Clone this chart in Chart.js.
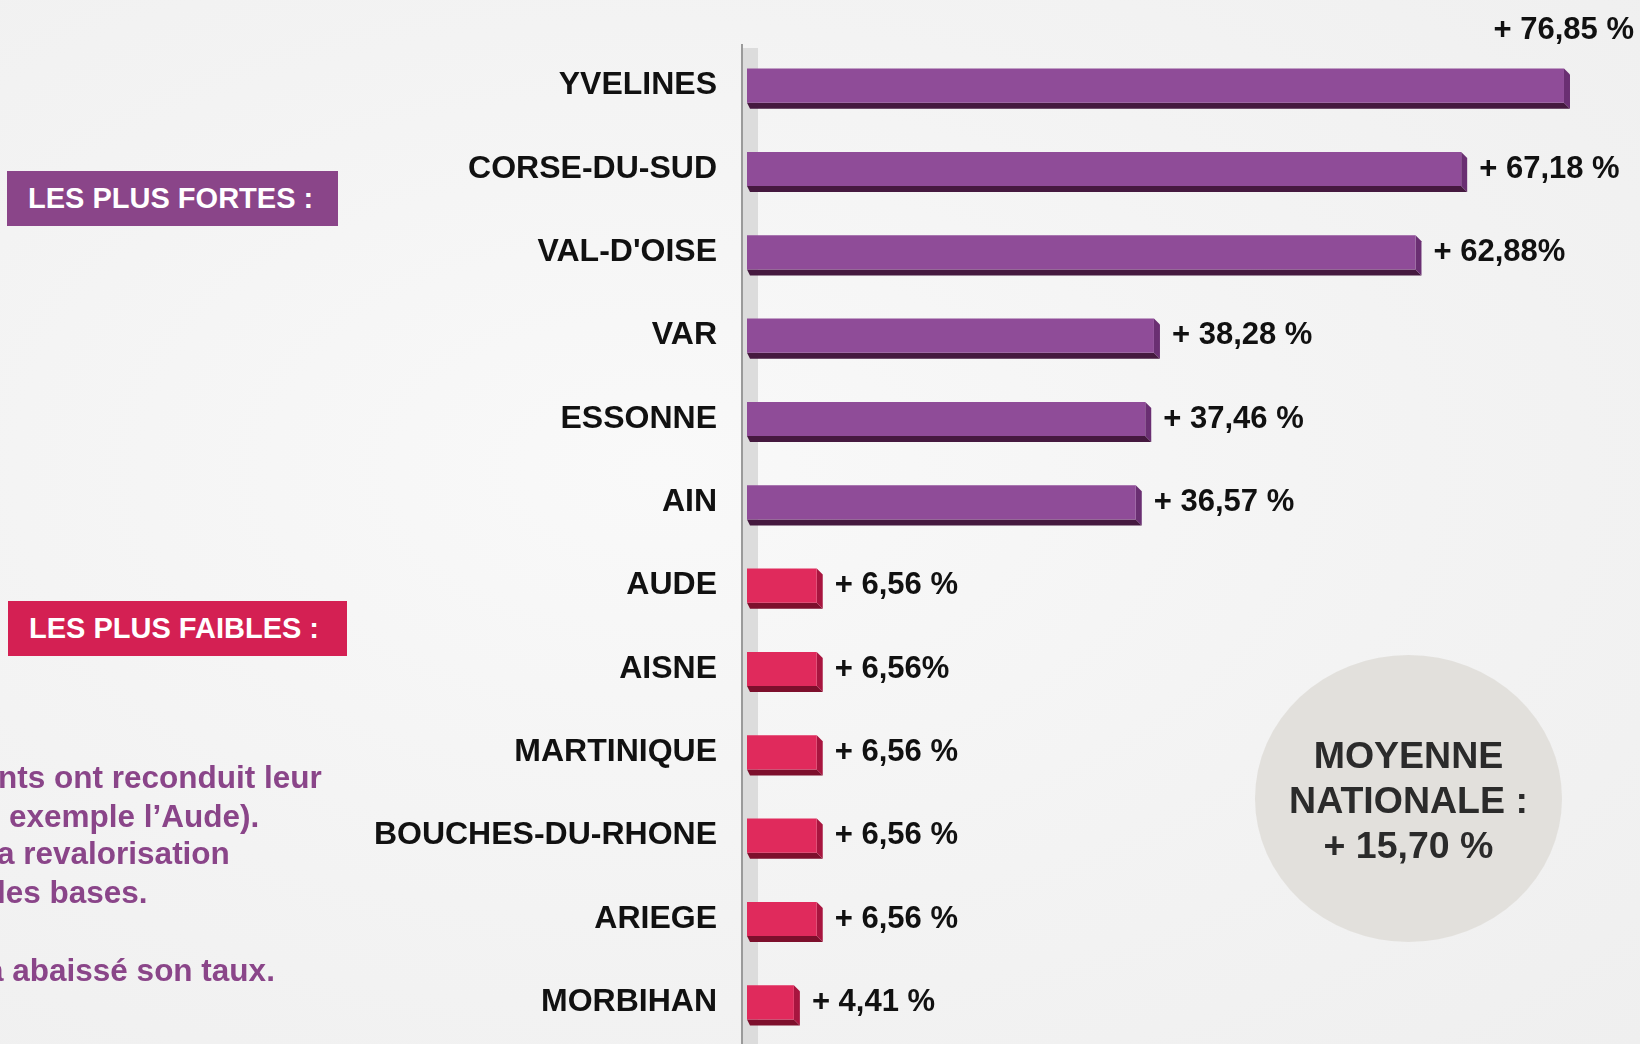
<!DOCTYPE html>
<html>
<head>
<meta charset="utf-8">
<script src="https://cdn.jsdelivr.net/npm/chart.js@4.4.0/dist/chart.umd.min.js"></script>
<style>
  html, body { margin: 0; padding: 0; }
  body {
    width: 1640px; height: 1044px; overflow: hidden; position: relative;
    background: radial-gradient(ellipse at 40% 45%, #f9f9f9 0%, #f3f3f3 55%, #efefef 100%);
    font-family: "Liberation Sans", Arial, sans-serif;
  }
  #wrap { position: absolute; left: 0; top: 0; width: 1640px; height: 1044px; }
  .box {
    position: absolute; color: #fff; font-weight: bold; font-size: 29px;
    line-height: 55px; padding-left: 21px; box-sizing: border-box;
  }
  #fortes { left: 7px; top: 171px; width: 331px; height: 55px; background: #8a4589; }
  #faibles { left: 8px; top: 601px; width: 339px; height: 55px; background: #d42053; }
  .note {
    position: absolute; color: #8a4589; font-weight: bold; font-size: 31.5px;
    white-space: nowrap; line-height: 36px;
  }
  #moyenne {
    position: absolute; left: 1255px; top: 655px; width: 307px; height: 287px;
    border-radius: 50%;
    background: radial-gradient(ellipse at center, #e2e0dc 0%, #e2e0dc 80%, #e6e4e1 100%);
    color: #2b2b2b; font-weight: bold; font-size: 37.5px; text-align: center;
  }
  #moyenne div { position: absolute; left: 0; width: 100%; line-height: 44px; }
</style>
</head>
<body>
<div id="wrap"><canvas id="chart" width="1640" height="1044"></canvas></div>

<div class="box" id="fortes">LES PLUS FORTES :</div>
<div class="box" id="faibles">LES PLUS FAIBLES :</div>

<div class="note" style="left:-2px; top:759px;">nts ont reconduit leur</div>
<div class="note" style="left:9px; top:798px;">exemple l’Aude).</div>
<div class="note" style="left:-3px; top:835px;">a revalorisation</div>
<div class="note" style="left:-3px; top:874px;">les bases.</div>
<div class="note" style="left:-14px; top:952px;">a abaissé son taux.</div>

<div id="moyenne">
  <div style="top:78px;">MOYENNE</div>
  <div style="top:123px;">NATIONALE :</div>
  <div style="top:168px;">+ 15,70 %</div>
</div>

<script>
var departements = ['YVELINES', 'CORSE-DU-SUD', "VAL-D'OISE", 'VAR', 'ESSONNE', 'AIN',
    'AUDE', 'AISNE', 'MARTINIQUE', 'BOUCHES-DU-RHONE', 'ARIEGE', 'MORBIHAN'];
var hausses = [76.85, 67.18, 62.88, 38.28, 37.46, 36.57, 6.56, 6.56, 6.56, 6.56, 6.56, 4.41];
var etiquettes = ['+ 76,85 %', '+ 67,18 %', '+ 62,88%', '+ 38,28 %', '+ 37,46 %', '+ 36,57 %',
    '+ 6,56 %', '+ 6,56%', '+ 6,56 %', '+ 6,56 %', '+ 6,56 %', '+ 4,41 %'];
var groupes = ['fortes', 'fortes', 'fortes', 'fortes', 'fortes', 'fortes',
    'faibles', 'faibles', 'faibles', 'faibles', 'faibles', 'faibles'];

var couleurs = {
    fortes: { face: '#8f4c98', cote: '#6a2f72', dessous: '#45193f' },
    faibles: { face: '#e02a5c', cote: '#a8153f', dessous: '#7d0f2c' }
};

var police = '"Liberation Sans", Arial, sans-serif';

// mur gris + axe, puis volume des barres (faces bas et droite)
var relief = {
    id: 'relief',
    beforeDatasetsDraw: function (chart) {
        var ctx = chart.ctx;
        var area = chart.chartArea;
        ctx.save();
        ctx.fillStyle = '#dcdcdc';
        ctx.fillRect(area.left - 4, area.top + 4, 15, area.bottom - area.top);
        ctx.strokeStyle = '#9a9a9a';
        ctx.lineWidth = 2;
        ctx.beginPath();
        ctx.moveTo(area.left - 5, area.top);
        ctx.lineTo(area.left - 5, area.bottom);
        ctx.stroke();

        var meta = chart.getDatasetMeta(0);
        var dx = 6, dy = 6;
        meta.data.forEach(function (bar, i) {
            var p = bar.getProps(['x', 'y', 'base', 'height'], true);
            var c = couleurs[groupes[i]];
            var top = p.y - p.height / 2, bot = p.y + p.height / 2;
            ctx.fillStyle = c.dessous;
            ctx.beginPath();
            ctx.moveTo(p.base, bot);
            ctx.lineTo(p.x, bot);
            ctx.lineTo(p.x + dx, bot + dy);
            ctx.lineTo(p.base + 3, bot + dy);
            ctx.closePath();
            ctx.fill();
            ctx.fillStyle = c.cote;
            ctx.beginPath();
            ctx.moveTo(p.x, top);
            ctx.lineTo(p.x + dx, top + dy);
            ctx.lineTo(p.x + dx, bot + dy);
            ctx.lineTo(p.x, bot);
            ctx.closePath();
            ctx.fill();
        });
        ctx.restore();
    },
    afterDatasetsDraw: function (chart) {
        var ctx = chart.ctx;
        var meta = chart.getDatasetMeta(0);
        ctx.save();
        ctx.font = 'bold 31px ' + police;
        ctx.fillStyle = '#111';
        ctx.textBaseline = 'middle';
        meta.data.forEach(function (bar, i) {
            var p = bar.getProps(['x', 'y'], true);
            var txt = etiquettes[i];
            var w = ctx.measureText(txt).width;
            if (p.x + 18 + w > chart.width - 4) {
                ctx.textAlign = 'right';
                ctx.fillText(txt, chart.width - 6, p.y - 55);
            } else {
                ctx.textAlign = 'left';
                ctx.fillText(txt, p.x + 18, p.y);
            }
        });
        ctx.restore();
    }
};

var ctx = document.getElementById('chart').getContext('2d');

var chart = new Chart(ctx, {
    type: 'bar',
    data: {
        labels: departements,
        datasets: [{
            data: hausses,
            backgroundColor: groupes.map(function (g) { return couleurs[g].face; }),
            borderWidth: 0,
            barPercentage: 0.41,
            categoryPercentage: 1
        }]
    },
    options: {
        indexAxis: 'y',
        responsive: false,
        animation: false,
        events: [],
        layout: { padding: { top: 44, bottom: 0, left: 0, right: 0 } },
        plugins: {
            legend: { display: false },
            tooltip: { enabled: false }
        },
        scales: {
            x: {
                display: false,
                min: 0,
                max: 84
            },
            y: {
                grid: { display: false },
                border: { display: false },
                ticks: {
                    color: '#111',
                    padding: 22,
                    font: { family: police, size: 32, weight: 'bold' }
                },
                afterFit: function (scale) {
                    scale.width = 747;
                    scale.paddingTop = 0;
                    scale.paddingBottom = 0;
                }
            }
        }
    },
    plugins: [relief]
});
</script>
</body>
</html>
